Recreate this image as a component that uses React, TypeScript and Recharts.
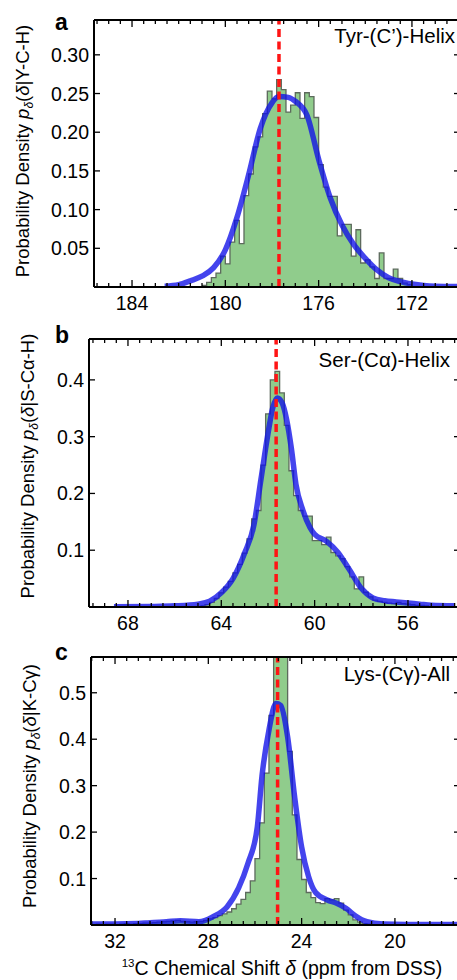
import { ComposedChart, Area, Line, XAxis, YAxis, ReferenceLine } from 'recharts'

const FONT = '"Liberation Sans", Arial, Helvetica, sans-serif'
const GREEN = '#90cc8c'
const EDGE = '#5d6a5d'
const BLUE = '#1010e8'
const RED = '#ff1414'
const BIN_W = 0.2
const CHART_W = 462
const PLOT_RIGHT = 460
const TICK_GAP = 2

// a: Tyr C' helix
const A_BIN_START = 181.0
const A_HIST = [
  0.002, 0.006, 0.012, 0.018, 0.04, 0.03, 0.058, 0.086, 0.056, 0.118, 0.146, 0.181, 0.194, 0.224, 0.253,
  0.243, 0.268, 0.255, 0.226, 0.235, 0.251, 0.218, 0.251, 0.246, 0.219, 0.158, 0.129, 0.117, 0.117, 0.066,
  0.081, 0.081, 0.04, 0.074, 0.031, 0.035, 0.026, 0.011, 0.044, 0.011, 0.011, 0.023, 0.011, 0.005, 0.003,
]
const A_CURVE_X = [182.6, 182, 181.5, 181, 180.5, 180, 179.5, 179, 178.5, 178, 177.7, 177.3, 177, 176.5, 176, 175.5, 175, 174.5, 174, 173.5, 173, 172.5, 172, 171.5, 171, 170]
const A_CURVE_Y = [0.001, 0.003, 0.008, 0.014, 0.025, 0.048, 0.09, 0.145, 0.205, 0.238, 0.246, 0.245, 0.24, 0.222, 0.165, 0.115, 0.08, 0.055, 0.037, 0.022, 0.012, 0.007, 0.004, 0.002, 0.001, 0.0005]
const A_MEAN = 177.7
const A_XTICKS = [184, 180, 176, 172]
const A_YTICKS = [0.05, 0.1, 0.15, 0.2, 0.25, 0.3]

// b: Ser C-alpha helix
const B_BIN_START = 64.9
const B_HIST = [
  0.002, 0.004, 0.008, 0.015, 0.025, 0.035, 0.045, 0.06, 0.075, 0.095, 0.12, 0.155, 0.17, 0.25, 0.34,
  0.4, 0.415, 0.377, 0.32, 0.24, 0.196, 0.17, 0.16, 0.16, 0.117, 0.117, 0.11, 0.123, 0.096, 0.09,
  0.085, 0.071, 0.053, 0.032, 0.053, 0.026, 0.018, 0.012, 0.01, 0.008, 0.007, 0.006, 0.008, 0.006, 0.005,
  0.004, 0.003, 0.003, 0.002,
]
const B_CURVE_X = [68.6, 67, 66, 65, 64.5, 64, 63.5, 63, 62.6, 62.3, 62, 61.8, 61.6, 61.4, 61.2, 61, 60.8, 60.5, 60.2, 60, 59.5, 59, 58.5, 58, 57.5, 57, 56.5, 56, 55.5, 55, 54]
const B_CURVE_Y = [0.0005, 0.001, 0.002, 0.005, 0.01, 0.025, 0.05, 0.095, 0.145, 0.225, 0.305, 0.35, 0.368, 0.36, 0.33, 0.28, 0.216, 0.17, 0.14, 0.128, 0.116, 0.096, 0.065, 0.033, 0.016, 0.011, 0.009, 0.007, 0.005, 0.003, 0.002]
const B_MEAN = 61.65
const B_XTICKS = [68, 64, 60, 56]
const B_YTICKS = [0.1, 0.2, 0.3, 0.4]

// c: Lys C-gamma all
const C_BIN_START = 33.0
const C_HIST = [
  0.001, 0.002, 0.001, 0.002, 0.002, 0.001, 0.002, 0.003, 0.002, 0.003, 0.003, 0.004, 0.004, 0.005, 0.006,
  0.007, 0.008, 0.009, 0.01, 0.008, 0.007, 0.006, 0.007, 0.008, 0.01, 0.013, 0.016, 0.02, 0.024, 0.028,
  0.035, 0.045, 0.055, 0.07, 0.095, 0.143, 0.22, 0.327, 0.451, 0.66, 0.64, 0.61, 0.374, 0.237, 0.141,
  0.098, 0.07, 0.059, 0.048, 0.046, 0.057, 0.054, 0.057, 0.047, 0.032, 0.022, 0.011, 0.006, 0.003, 0.002,
]
const C_CURVE_X = [33, 32, 31, 30.5, 29.8, 29.2, 28.4, 27.8, 27.2, 26.7, 26.3, 25.9, 25.7, 25.4, 25.1, 24.9, 24.6, 24.3, 24.0, 23.7, 23.4, 22.9, 22.5, 22.1, 21.7, 21.2, 20.5, 19.5, 17.3]
const C_CURVE_Y = [0.002, 0.002, 0.003, 0.005, 0.007, 0.009, 0.007, 0.018, 0.039, 0.08, 0.133, 0.211, 0.32, 0.42, 0.477, 0.473, 0.405, 0.276, 0.168, 0.104, 0.07, 0.054, 0.047, 0.036, 0.02, 0.007, 0.002, 0.001, 0.001]
const C_MEAN = 25.03
const C_XTICKS = [32, 28, 24, 20]
const C_YTICKS = [0.1, 0.2, 0.3, 0.4, 0.5]

interface PanelProps {
  top: number
  bottom: number
  left: number
  xDomain: [number, number]
  yMax: number
  xTicks: number[]
  yTicks: number[]
  yDigits: number
  binStart: number
  hist: number[]
  curveX: number[]
  curveY: number[]
  mean: number
}

function Panel(p: PanelProps) {
  const plotH = p.bottom - p.top
  const plotTop = 20
  const height = plotH + 60

  const histData = p.hist.map((v, i) => ({ x: p.binStart - i * BIN_W, v }))
  histData.push({ x: p.binStart - p.hist.length * BIN_W, v: p.hist[p.hist.length - 1] })
  const curveData = p.curveX.map((x, i) => ({ x, y: p.curveY[i] }))

  // minor ticks every 0.5 ppm
  const minor: number[] = []
  for (let k = Math.ceil(p.xDomain[0] * 2); k <= Math.floor(p.xDomain[1] * 2); k++) minor.push(k / 2)

  const xTick = (props: any) => {
    const { x, y, payload } = props
    const isMajor = p.xTicks.some((m) => Math.abs(m - payload.value) < 1e-6)
    const len = isMajor ? 7 : 4
    const axisY = y - TICK_GAP
    return (
      <g>
        <line x1={x} x2={x} y1={axisY} y2={axisY - len} stroke="#000" strokeWidth={1.3} />
        <line x1={x} x2={x} y1={plotTop} y2={plotTop + len} stroke="#000" strokeWidth={1.3} />
        {isMajor && (
          <text x={x} y={axisY + 23} textAnchor="middle" fontSize={19.5} fontFamily={FONT} fill="#000">
            {payload.value}
          </text>
        )}
      </g>
    )
  }

  const yTick = (props: any) => {
    const { x, y, payload } = props
    const axisX = x + TICK_GAP
    return (
      <g>
        <line x1={axisX} x2={axisX + 6} y1={y} y2={y} stroke="#000" strokeWidth={1.3} />
        <line x1={PLOT_RIGHT - 6} x2={PLOT_RIGHT} y1={y} y2={y} stroke="#000" strokeWidth={1.3} />
        <text x={axisX - 5} y={y} dy="0.36em" textAnchor="end" fontSize={19.5} fontFamily={FONT} fill="#000">
          {payload.value.toFixed(p.yDigits)}
        </text>
      </g>
    )
  }

  const frame = { stroke: '#000', strokeWidth: 2 }

  return (
    <div style={{ position: 'absolute', left: 0, top: p.top - plotTop }}>
      <ComposedChart width={CHART_W} height={height} margin={{ top: 19, right: 1, bottom: 10, left: p.left - 50 }}>
        <XAxis
          dataKey="x"
          type="number"
          domain={p.xDomain}
          reversed
          allowDataOverflow
          ticks={minor}
          interval={0}
          tickSize={0}
          tickMargin={TICK_GAP}
          tick={xTick}
          axisLine={frame}
          height={30}
        />
        <XAxis
          xAxisId="top"
          orientation="top"
          type="number"
          domain={p.xDomain}
          reversed
          allowDataOverflow
          height={1}
          tick={false}
          tickLine={false}
          axisLine={frame}
        />
        <YAxis
          type="number"
          domain={[0, p.yMax]}
          allowDataOverflow
          ticks={p.yTicks}
          interval={0}
          tickSize={0}
          tickMargin={TICK_GAP}
          tick={yTick}
          axisLine={frame}
          width={50}
        />
        <YAxis
          yAxisId="r"
          orientation="right"
          type="number"
          domain={[0, p.yMax]}
          allowDataOverflow
          width={1}
          tick={false}
          tickLine={false}
          axisLine={frame}
        />
        <Area
          data={histData}
          dataKey="v"
          type="stepAfter"
          fill={GREEN}
          fillOpacity={1}
          stroke={EDGE}
          strokeWidth={1.3}
          isAnimationActive={false}
        />
        <Line
          data={curveData}
          dataKey="y"
          type="monotone"
          stroke={BLUE}
          strokeOpacity={0.78}
          strokeWidth={5.5}
          dot={false}
          isAnimationActive={false}
        />
        <ReferenceLine x={p.mean} stroke={RED} strokeWidth={3.5} strokeDasharray="8 4.5" />
      </ComposedChart>
    </div>
  )
}

function YLabel({ x, y, cond }: { x: number; y: number; cond: string }) {
  return (
    <text transform={`translate(${x},${y}) rotate(-90)`} textAnchor="middle" fontSize={18.5}>
      Probability Density <tspan fontStyle="italic">p</tspan>
      <tspan fontStyle="italic" fontSize={12} dy={4}>δ</tspan>
      <tspan dy={-4}>(</tspan>
      <tspan fontStyle="italic">δ</tspan>
      <tspan>|{cond})</tspan>
    </text>
  )
}

export default function App() {
  return (
    <div
      style={{
        position: 'absolute',
        left: 0,
        top: 0,
        width: 457,
        height: 980,
        overflow: 'hidden',
        background: '#fff',
        fontFamily: FONT,
      }}
    >
      <Panel
        top={20}
        bottom={287}
        left={94}
        xDomain={[169.94, 185.63]}
        yMax={0.345}
        xTicks={A_XTICKS}
        yTicks={A_YTICKS}
        yDigits={2}
        binStart={A_BIN_START}
        hist={A_HIST}
        curveX={A_CURVE_X}
        curveY={A_CURVE_Y}
        mean={A_MEAN}
      />
      <Panel
        top={339}
        bottom={607}
        left={89}
        xDomain={[53.77, 69.67]}
        yMax={0.472}
        xTicks={B_XTICKS}
        yTicks={B_YTICKS}
        yDigits={1}
        binStart={B_BIN_START}
        hist={B_HIST}
        curveX={B_CURVE_X}
        curveY={B_CURVE_Y}
        mean={B_MEAN}
      />
      <Panel
        top={657}
        bottom={925}
        left={91}
        xDomain={[17.21, 33.03]}
        yMax={0.577}
        xTicks={C_XTICKS}
        yTicks={C_YTICKS}
        yDigits={1}
        binStart={C_BIN_START}
        hist={C_HIST}
        curveX={C_CURVE_X}
        curveY={C_CURVE_Y}
        mean={C_MEAN}
      />
      <svg
        width={457}
        height={980}
        style={{ position: 'absolute', left: 0, top: 0, pointerEvents: 'none' }}
        fontFamily={FONT}
        fill="#000"
      >
        <text x={55} y={30} fontSize={23} fontWeight="bold">a</text>
        <text x={55} y={343} fontSize={23} fontWeight="bold">b</text>
        <text x={55} y={660} fontSize={23} fontWeight="bold">c</text>

        <text x={455} y={43} fontSize={20.5} textAnchor="end">Tyr-(C’)-Helix</text>
        <text x={450} y={367} fontSize={20.5} textAnchor="end">Ser-(Cα)-Helix</text>
        <text x={450} y={681} fontSize={20.5} textAnchor="end">Lys-(Cγ)-All</text>

        <YLabel x={29} y={151} cond="Y-C-H" />
        <YLabel x={34} y={466} cond="S-Cα-H" />
        <YLabel x={36} y={786} cond="K-Cγ" />

        <text x={282} y={975} fontSize={19.5} textAnchor="middle">
          <tspan fontSize={11.5} dy={-8}>13</tspan>
          <tspan dy={8}>C Chemical Shift </tspan>
          <tspan fontStyle="italic">δ</tspan>
          <tspan> (ppm from DSS)</tspan>
        </text>
      </svg>
    </div>
  )
}
